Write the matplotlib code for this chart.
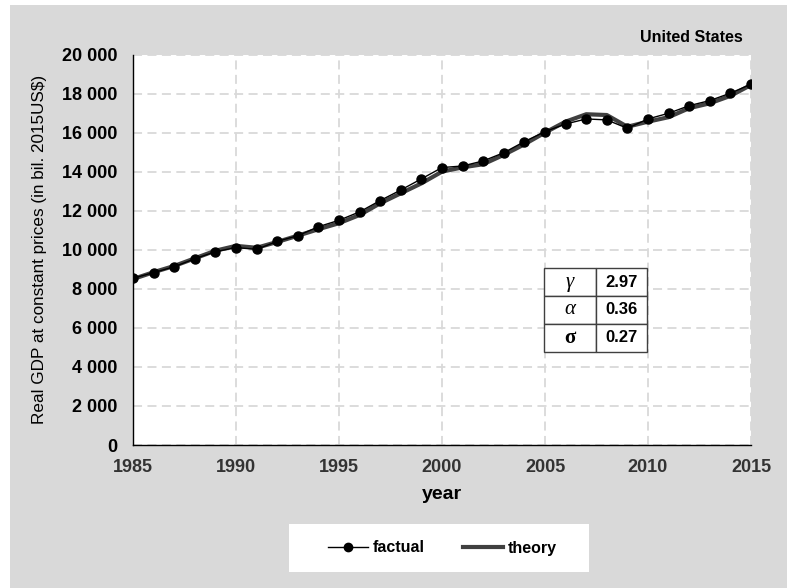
import matplotlib
matplotlib.use("Agg")
import matplotlib.pyplot as plt
from matplotlib.patches import Rectangle
from matplotlib.lines import Line2D
from matplotlib.ticker import FuncFormatter

plt.rcParams['font.family'] = ['Liberation Sans', 'DejaVu Sans']

years = list(range(1985, 2016))
factual = [8540, 8830, 9130, 9540, 9900, 10110, 10020, 10430, 10720, 11180,
           11510, 11940, 12520, 13060, 13630, 14210, 14290, 14550, 14970, 15540,
           16050, 16440, 16700, 16650, 16220, 16700, 16990, 17380, 17640, 18020,
           18480]
theory = [8500, 8850, 9170, 9560, 9950, 10200, 10100, 10400, 10720, 11050,
          11360, 11780, 12380, 12890, 13400, 14000, 14220, 14380, 14860, 15400,
          16000, 16560, 16940, 16900, 16300, 16560, 16790, 17250, 17500, 17880,
          18440]
param_names = ['γ', 'α', 'σ']
param_values = ['2.97', '0.36', '0.27']
country = 'United States'

GREY = '#d9d9d9'

fig = plt.figure(figsize=(7.87, 5.88), dpi=100)
fig.patch.set_facecolor('white')
fig.patches.append(Rectangle((10 / 787, 0), 1 - 10 / 787, 583 / 588,
                             transform=fig.transFigure, facecolor=GREY,
                             edgecolor='none', zorder=-10))

ax = fig.add_axes([133 / 787, 1 - 445 / 588, 618 / 787, 390.5 / 588])
ax.set_facecolor('white')

ax.plot(years, theory, color='#404040', lw=3, zorder=3, solid_capstyle='round')
ax.plot(years, factual, color='black', lw=1, marker='o', ms=6.5, zorder=4)

ax.set_xlim(1985, 2015)
ax.set_ylim(0, 20000)
ax.set_xticks(range(1985, 2016, 5))
ax.set_yticks(range(0, 20001, 2000))
ax.yaxis.set_major_formatter(FuncFormatter(lambda v, p: f'{int(v):,}'.replace(',', ' ')))
ax.grid(True, color=GREY, ls=(0, (5, 3)), lw=1.3)
ax.set_axisbelow(True)
for s in ['top', 'right']:
    ax.spines[s].set_visible(False)
for s in ['left', 'bottom']:
    ax.spines[s].set_color('black')
    ax.spines[s].set_linewidth(1)
ax.tick_params(axis='both', length=0, labelsize=13)
ax.tick_params(axis='x', pad=10, labelcolor='#333333')
ax.tick_params(axis='y', pad=11)
for lab in ax.get_xticklabels() + ax.get_yticklabels():
    lab.set_fontweight('bold')

ax.set_xlabel('year', fontsize=14, fontweight='bold', labelpad=7)
ax.set_ylabel('Real GDP at constant prices (in bil. 2015US$)', fontsize=12.3,
              labelpad=11)
fig.text(743 / 787, 1 - 37 / 588, country, ha='right', va='center',
         fontsize=11.5, fontweight='bold')

# parameter table
tab = ax.table(cellText=[[n, v] for n, v in zip(param_names, param_values)],
               cellLoc='center', bbox=[0.6655, 0.239, 0.1667, 0.2136])
tab.auto_set_font_size(False)
for (r, c), cell in tab.get_celld().items():
    cell.set_edgecolor('#404040')
    cell.set_linewidth(1)
    cell.set_facecolor('white')
    txt = cell.get_text()
    if c == 0:
        txt.set_fontfamily(['Liberation Serif', 'DejaVu Serif'])
        txt.set_fontsize(15)
        txt.set_fontstyle('normal' if r == 2 else 'italic')
        if r == 2:
            txt.set_fontweight('bold')
    else:
        txt.set_fontsize(12)
        txt.set_fontweight('bold')
tab.set_zorder(6)

# legend box
fig.patches.append(Rectangle((289 / 787, 1 - 572 / 588), 300 / 787, 48 / 588,
                             transform=fig.transFigure, facecolor='white',
                             edgecolor='none', zorder=-5))
handles = [Line2D([], [], color='black', lw=1, marker='o', ms=6),
           Line2D([], [], color='#404040', lw=3)]
leg = fig.legend(handles, ['factual', 'theory'], loc='center',
                 bbox_to_anchor=(442 / 787, 1 - 548 / 588), ncol=2,
                 frameon=False, handlelength=2.5, handletextpad=0.3,
                 columnspacing=2.4, prop={'weight': 'bold', 'size': 11.5})

fig.savefig('out.png', dpi=100)
